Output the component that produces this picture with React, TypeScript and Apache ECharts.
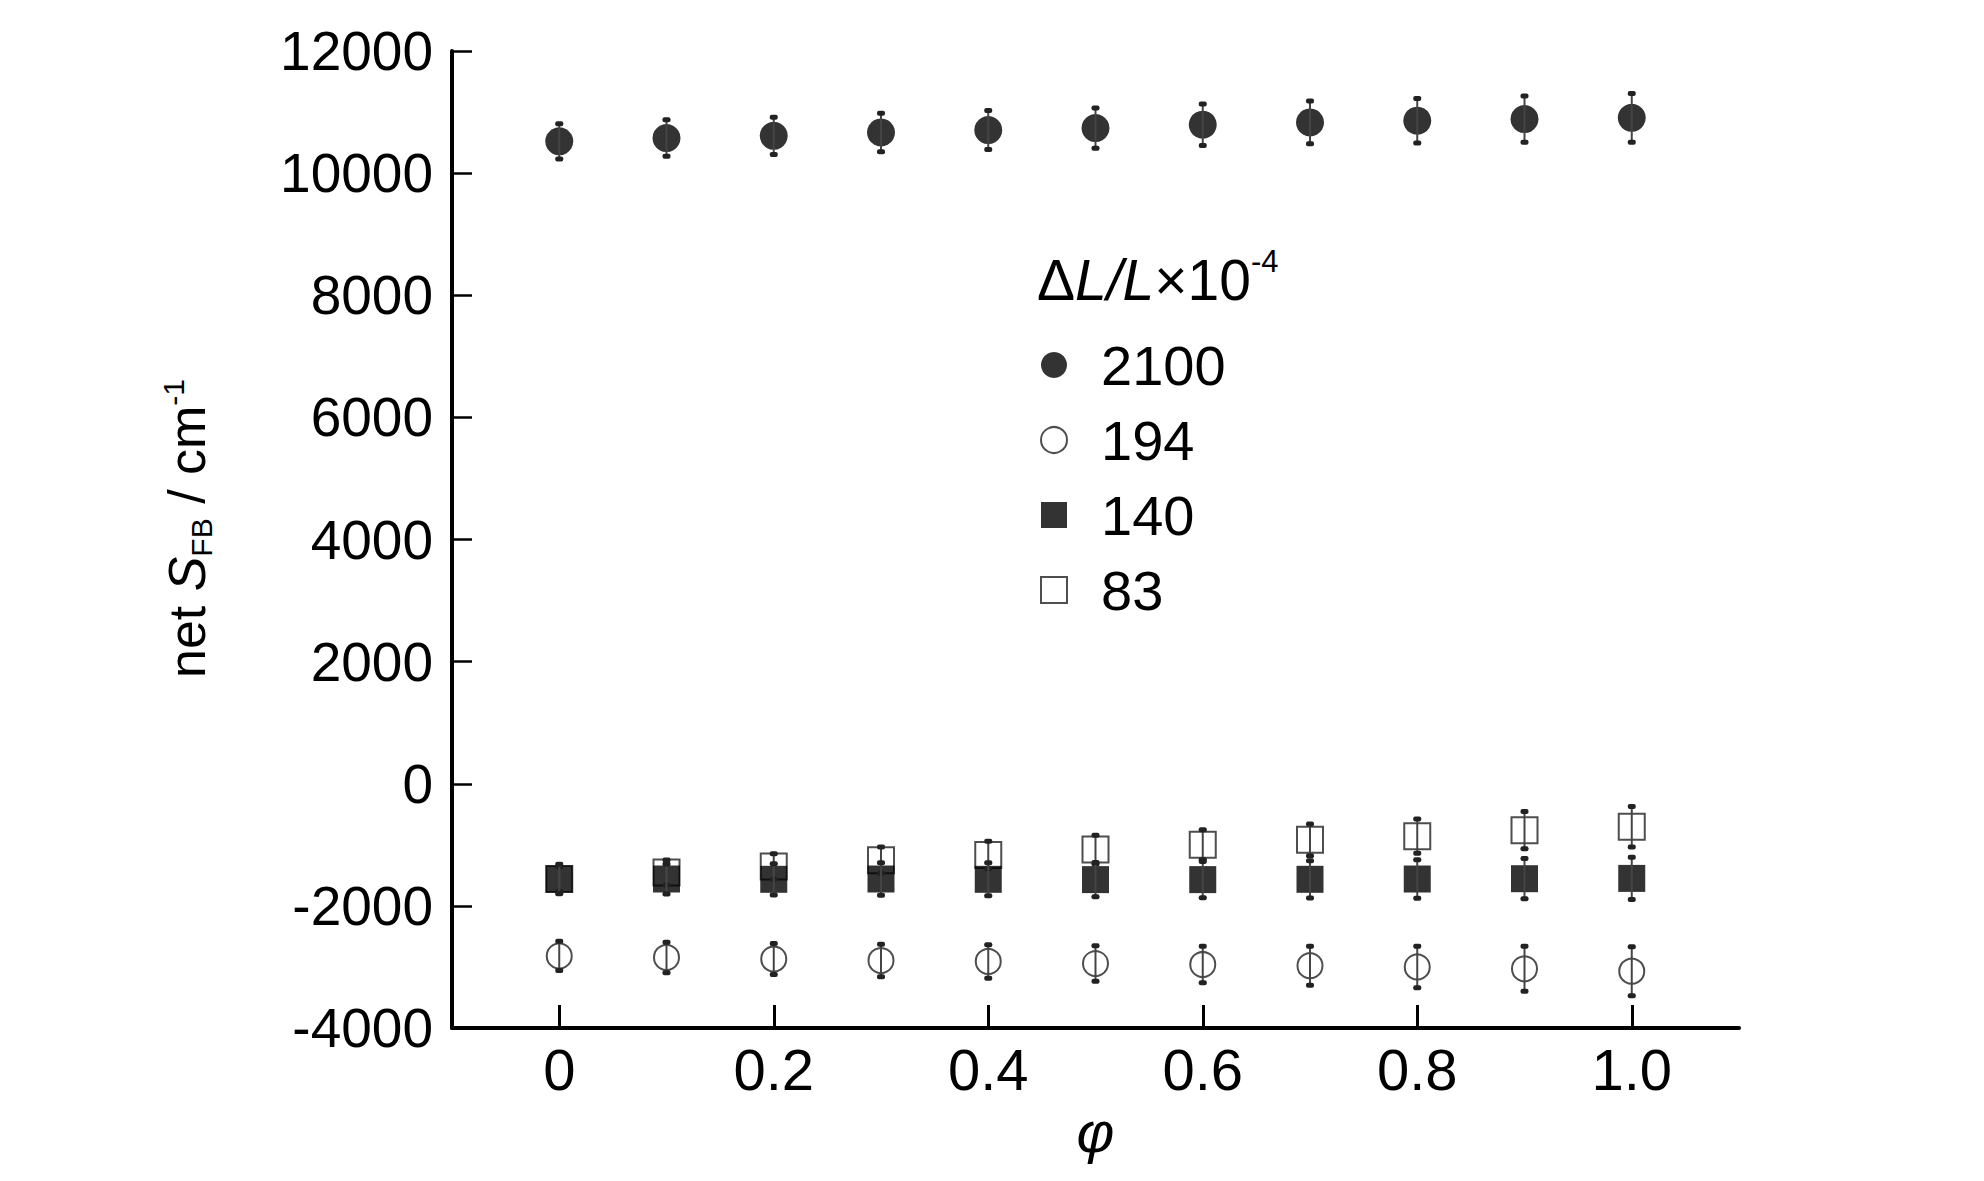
import React, { useEffect, useRef } from 'react';
import * as echarts from 'echarts';

const phi = [0, 0.1, 0.2, 0.3, 0.4, 0.5, 0.6, 0.7, 0.8, 0.9, 1.0];
const xTickValues = [0, 0.2, 0.4, 0.6, 0.8, 1.0];

const seriesNames = ['2100', '194', '140', '83'];

const v2100 = [10520, 10575, 10612, 10667, 10705, 10738, 10793, 10831, 10858, 10885, 10905];
const e2100 = [290, 300, 305, 315, 320, 330, 340, 350, 365, 380, 400];

const v194 = [-2820, -2845, -2870, -2895, -2910, -2945, -2960, -2980, -3000, -3030, -3070];
const e194 = [240, 250, 255, 265, 275, 290, 300, 320, 340, 370, 400];

const v140 = [-1560, -1560, -1565, -1560, -1565, -1570, -1570, -1565, -1560, -1555, -1550];
const e140 = [240, 245, 255, 265, 270, 280, 295, 305, 315, 330, 345];

const v83 = [-1560, -1455, -1356, -1252, -1165, -1078, -1000, -919, -858, -760, -704];
const e83 = [200, 205, 210, 215, 225, 235, 245, 260, 280, 305, 330];

const REG = "'Liberation Sans', Arial, sans-serif";

function pts(vals: number[]) {
  return phi.map((p, i) => [p, vals[i]]);
}
function errPts(vals: number[], errs: number[]) {
  return phi.map((p, i) => [p, vals[i], errs[i]]);
}

function errorSeries(vals: number[], errs: number[]) {
  return {
    type: 'custom',
    z: 5,
    silent: true,
    clip: false,
    encode: { x: 0, y: 1 },
    data: errPts(vals, errs),
    renderItem: (params: any, api: any) => {
      const x = api.value(0);
      const y = api.value(1);
      const e = api.value(2);
      const top = api.coord([x, y + e]);
      const bot = api.coord([x, y - e]);
      return {
        type: 'group',
        children: [
          {
            type: 'line',
            shape: { x1: top[0], y1: top[1], x2: bot[0], y2: bot[1] },
            style: { stroke: '#444', lineWidth: 2 },
          },
          {
            type: 'rect',
            shape: { x: top[0] - 4, y: top[1] - 2.5, width: 8, height: 5, r: 2 },
            style: { fill: '#222' },
          },
          {
            type: 'rect',
            shape: { x: bot[0] - 4, y: bot[1] - 2.5, width: 8, height: 5, r: 2 },
            style: { fill: '#222' },
          },
        ],
      };
    },
  };
}

export default function App() {
  const ref = useRef<HTMLDivElement>(null);
  useEffect(() => {
    if (!ref.current) return;
    const chart = echarts.init(ref.current, null, { renderer: 'svg' });
    const option: any = {
      animation: false,
      backgroundColor: '#ffffff',
      grid: { left: 452, top: 51, width: 1287, height: 977 },
      xAxis: {
        type: 'value',
        min: -0.1,
        max: 1.1,
        name: 'φ',
        nameLocation: 'middle',
        nameGap: 60,
        nameTextStyle: { fontFamily: REG, fontStyle: 'italic', fontSize: 58, color: '#000' },
        splitLine: { show: false },
        axisLine: { show: true, onZero: false, lineStyle: { color: '#000', width: 4 } },
        axisTick: {
          show: true,
          inside: true,
          length: 23,
          customValues: xTickValues,
          lineStyle: { color: '#000', width: 3 },
        },
        axisLabel: {
          show: true,
          customValues: xTickValues,
          margin: 12,
          fontFamily: REG,
          fontSize: 58,
          color: '#000',
          formatter: (v: number) => (v === 0 ? '0' : v.toFixed(1)),
        },
      },
      yAxis: {
        type: 'value',
        min: -4000,
        max: 12000,
        interval: 2000,
        name: '{a|net }{i|S}{sub|FB}{a| / cm}{sup|-1}',
        nameLocation: 'middle',
        nameRotate: 90,
        nameGap: 236,
        nameTextStyle: {
          color: '#000',
          padding: [0, 0, 0, 22],
          rich: {
            a: { fontFamily: REG, fontSize: 52, lineHeight: 58, color: '#000' },
            i: { fontFamily: REG, fontStyle: 'italic', fontSize: 52, lineHeight: 58, color: '#000' },
            sub: { fontFamily: REG, fontSize: 30, lineHeight: 30, verticalAlign: 'bottom', color: '#000' },
            sup: { fontFamily: REG, fontSize: 30, lineHeight: 30, verticalAlign: 'top', color: '#000' },
          },
        },
        splitLine: { show: false },
        axisLine: { show: true, onZero: false, lineStyle: { color: '#000', width: 4 } },
        axisTick: { show: true, inside: true, length: 20, lineStyle: { color: '#000', width: 2.5 } },
        axisLabel: {
          margin: 19,
          fontFamily: REG,
          fontSize: 55,
          color: '#000',
          formatter: (v: number) => String(v),
        },
      },
      legend: {
        data: seriesNames,
        orient: 'vertical',
        left: 1035,
        top: 330,
        itemWidth: 26,
        itemHeight: 26,
        itemGap: 15,
        selectedMode: false,
        textStyle: {
          fontFamily: REG,
          fontSize: 56,
          lineHeight: 60,
          color: '#000',
          padding: [0, 0, 0, 29],
        },
      },
      graphic: [
        {
          type: 'text',
          x: 1037,
          y: 280,
          style: {
            text: '{r|Δ}{i|L/L}{r|×10}{sup|-4}',
            verticalAlign: 'middle',
            rich: {
              r: { fontFamily: REG, fontSize: 57, lineHeight: 68, fill: '#000' },
              i: { fontFamily: REG, fontStyle: 'italic', fontSize: 57, lineHeight: 68, fill: '#000' },
              sup: { fontFamily: REG, fontSize: 31, lineHeight: 31, verticalAlign: 'top', fill: '#000' },
            },
          },
        },
      ],
      series: [
        {
          name: '83',
          type: 'scatter',
          symbol: 'emptyRect',
          symbolSize: 26,
          z: 2,
          itemStyle: { color: '#222', borderColor: '#222', borderWidth: 2.5 },
          data: pts(v83),
        },
        {
          name: '140',
          type: 'scatter',
          symbol: 'rect',
          symbolSize: 27,
          z: 3,
          itemStyle: { color: '#000' },
          data: pts(v140),
        },
        {
          name: '194',
          type: 'scatter',
          symbol: 'emptyCircle',
          symbolSize: 25,
          z: 3,
          itemStyle: { color: '#222', borderColor: '#222', borderWidth: 2.5 },
          data: pts(v194),
        },
        {
          name: '2100',
          type: 'scatter',
          symbol: 'circle',
          symbolSize: 28,
          z: 3,
          itemStyle: { color: '#000' },
          data: pts(v2100),
        },
        errorSeries(v83, e83),
        errorSeries(v140, e140),
        errorSeries(v194, e194),
        errorSeries(v2100, e2100),
      ],
    };
    chart.setOption(option);
    return () => chart.dispose();
  }, []);
  return (
    <div
      ref={ref}
      style={{ position: 'absolute', left: 0, top: 0, width: 1984, height: 1181 }}
    />
  );
}
